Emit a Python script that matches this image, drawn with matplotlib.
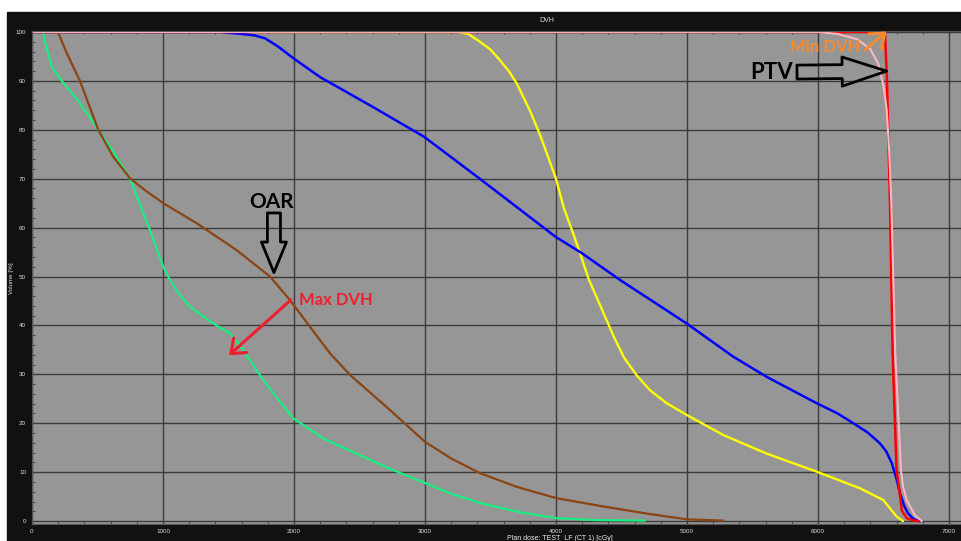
import matplotlib
matplotlib.use('Agg')
import matplotlib.pyplot as plt
from matplotlib.patches import Rectangle
from matplotlib.ticker import MultipleLocator

plt.rcParams['font.family'] = ['Liberation Sans', 'DejaVu Sans']

# DVH curves: dose [cGy] -> volume [%]
green_dose = [0, 82, 100, 130, 150, 227, 350, 456, 506, 620, 748, 820, 901, 1002, 1060, 1130,
              1200, 1334, 1420, 1511, 1613, 1766, 1890, 1995, 2224, 2500, 2750, 3000, 3200,
              3420, 3725, 4000, 4300, 4680]
green_vol = [100, 100, 98, 95, 92.9, 90, 86, 82, 80, 75.5, 70.1, 65, 59.5, 52, 49, 46.2,
             44, 41.3, 39.8, 38.4, 35, 28.8, 24.5, 21, 16.9, 13.5, 10.5, 7.8, 5.6,
             3.7, 1.8, 0.6, 0.2, 0.1]

brown_dose = [0, 198, 260, 366, 506, 620, 748, 870, 1002, 1257, 1562, 1817, 1969, 2100, 2275,
              2427, 2733, 3000, 3200, 3420, 3700, 4000, 4336, 4700, 5000, 5277]
brown_vol = [100, 100, 96, 90, 80, 74.5, 70.1, 67.5, 65, 60.9, 55.4, 50, 45.2, 40.5, 34.3,
             29.9, 22.7, 16.2, 12.8, 9.8, 7, 4.7, 3.1, 1.5, 0.35, 0.1]

blue_dose = [0, 1435, 1600, 1700, 1779, 1880, 1992, 2198, 2600, 2992, 3433, 3998, 4196, 4489,
             4998, 5354, 5608, 5990, 6150, 6270, 6380, 6473, 6520, 6563, 6600, 6626, 6660,
             6687, 6730, 6779]
blue_vol = [100, 100, 99.6, 99.3, 98.7, 97, 94.7, 90.8, 84.7, 78.6, 69.7, 58.1, 54.8, 49.3,
            40.4, 33.6, 29.5, 24.1, 22.0, 20, 18.1, 15.9, 14.3, 11.9, 8.6, 5.7, 3,
            1.6, 0.4, 0]

yellow_dose = [0, 3252, 3330, 3420, 3500, 3573, 3640, 3700, 3800, 3878, 4000, 4060, 4130, 4183,
               4252, 4336, 4438, 4520, 4616, 4720, 4845, 4998, 5277, 5608, 5990, 6321, 6499,
               6601, 6650]
yellow_vol = [100, 100, 99.6, 98, 96.4, 94.2, 92.0, 89.5, 84, 79, 70, 64, 58.9, 54.8,
              49.3, 44.2, 37.9, 33.4, 29.8, 26.7, 24.1, 21.7, 17.6, 13.8, 10.1, 6.7, 4.3,
              0.9, 0]

red_dose = [0, 6511, 6527, 6550, 6570, 6600, 6618, 6640, 6677, 6720, 6763]
red_vol = [100, 100, 90, 65, 34.4, 10.4, 7, 2.2, 0.6, 0.2, 0]

pink_dose = [0, 6000, 6150, 6300, 6400, 6460, 6500, 6525, 6545, 6560, 6590, 6634, 6650, 6677,
             6740, 6792]
pink_vol = [100, 100, 99.6, 98.5, 96.5, 93.5, 89, 84, 75, 65, 34.4, 10.4, 7, 4.3,
            1.2, 0]

fig = plt.figure(figsize=(9.61, 5.41), dpi=100)
fig.add_artist(Rectangle((7 / 961, 0), 1 - 7 / 961, 1 - 12 / 541, transform=fig.transFigure,
                         color='#111111', zorder=-1))

ax = fig.add_axes([32 / 961, 17 / 541, 929 / 961, 493 / 541])
ax.set_facecolor('#969696')

line_kw = dict(solid_joinstyle='round', solid_capstyle='round')
ax.plot(green_dose, green_vol, color='#1aee80', lw=1.6, **line_kw)
ax.plot(brown_dose, brown_vol, color='#8b4513', lw=1.6, **line_kw)
ax.plot(yellow_dose, yellow_vol, color='#ffff00', lw=1.7, **line_kw)
ax.plot(blue_dose, blue_vol, color='#0000ff', lw=1.8, **line_kw)
ax.plot(red_dose, red_vol, color='#ff0000', lw=1.8, **line_kw)
ax.plot(pink_dose, pink_vol, color='#ffb6c1', lw=1.5, **line_kw)

ax.set_xlim(0, 7092)
ax.set_ylim(-0.6, 100.2)
ax.xaxis.set_major_locator(MultipleLocator(1000))
ax.xaxis.set_minor_locator(MultipleLocator(200))
ax.yaxis.set_major_locator(MultipleLocator(10))
ax.yaxis.set_minor_locator(MultipleLocator(2))
ax.grid(True, which='major', color='#3c3c3c', lw=1.0)
ax.set_axisbelow(True)
ax.tick_params(which='major', length=0, labelsize=4.5, labelcolor='#dddddd')
ax.tick_params(axis='y', which='major', pad=4.3)
ax.tick_params(axis='x', which='major', pad=3.6)
ax.tick_params(which='minor', direction='in', length=2, width=0.7, color='#444444',
               top=True)
for s in ax.spines.values():
    s.set_color('#555555')
    s.set_linewidth(0.8)

fig.text(547 / 961, 1 - 21 / 541, 'DVH', ha='center', va='center', fontsize=5, color='#dddddd')
fig.text(11 / 961, 1 - 278 / 541, 'Volume [%]', rotation=90, ha='center', va='center',
         fontsize=4.5, color='#dddddd')
fig.text(507 / 961, 1 - 538 / 541, 'Plan dose: TEST_LF (CT 1) [cGy]', ha='left', va='center',
         fontsize=5, color='#eeeeee')

# annotations
ax.text(1832, 65.2, 'OAR', family=['Lato', 'DejaVu Sans'], fontweight='bold', fontsize=15,
        color='black', ha='center', va='center')
ax.annotate('', xy=(1847, 50.8), xytext=(1847, 63),
            arrowprops=dict(arrowstyle='simple,head_length=2.2,head_width=1.8,tail_width=0.94',
                            mutation_scale=10, fc='none', ec='black', lw=2,
                            shrinkA=0, shrinkB=0))

ax.text(2038, 45.3, 'Max DVH', family=['Lato', 'DejaVu Sans'], fontweight='bold', fontsize=12,
        color='#ee2030', ha='left', va='center')
ax.annotate('', xy=(1504, 33.9), xytext=(1975, 45.2),
            arrowprops=dict(arrowstyle='->,head_length=0.45,head_width=0.35',
                            mutation_scale=20, color='#ee2030', lw=2.2,
                            shrinkA=0, shrinkB=0))

ax.text(5649, 91.8, 'PTV', family=['Lato', 'DejaVu Sans'], fontweight='bold', fontsize=16,
        color='black', ha='center', va='center')
ax.annotate('', xy=(6524, 92.0), xytext=(5840, 91.8),
            arrowprops=dict(arrowstyle='simple,head_length=3.2,head_width=2.1,tail_width=1.0',
                            mutation_scale=10, fc='none', ec='black', lw=2,
                            shrinkA=0, shrinkB=0))

ax.text(5786, 96.9, 'Min DVH', family=['Lato', 'DejaVu Sans'], fontweight='bold', fontsize=12,
        color='#f58a30', ha='left', va='center')
ax.annotate('', xy=(6524, 100.1), xytext=(6359, 96.3),
            arrowprops=dict(arrowstyle='->,head_length=0.45,head_width=0.35',
                            mutation_scale=20, color='#f58a30', lw=2.2,
                            shrinkA=0, shrinkB=0), annotation_clip=False)

fig.savefig('out.png', dpi=100, facecolor='white')
